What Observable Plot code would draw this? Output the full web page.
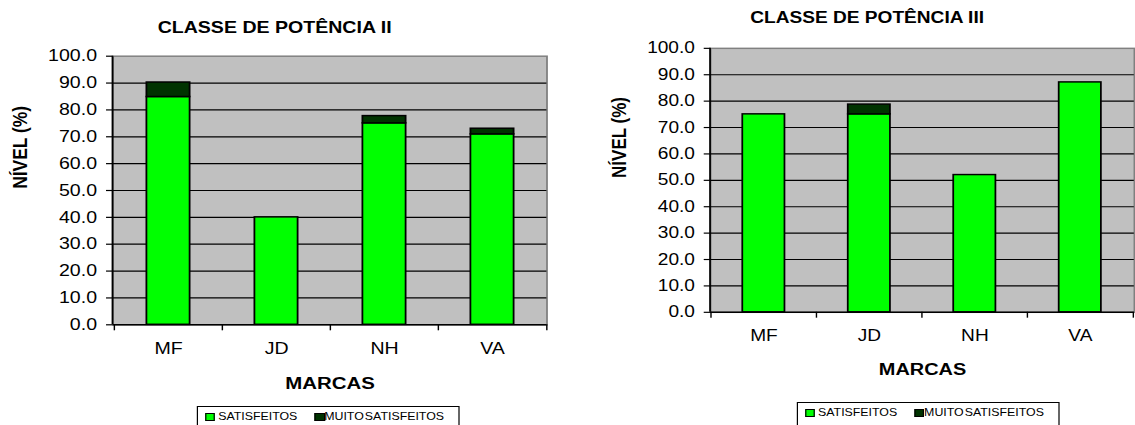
<!DOCTYPE html>
<html>
<head>
<meta charset="utf-8">
<script src="https://cdn.jsdelivr.net/npm/d3@7"></script>
<script src="https://cdn.jsdelivr.net/npm/@observablehq/plot@0.6"></script>
<style>
  html, body { margin: 0; padding: 0; width: 1135px; height: 425px; overflow: hidden; background: #fff; }
  /* the whole figure is drawn in a narrower space and stretched horizontally */
  #page { position: absolute; left: 0; top: 0; width: 945.83px; height: 425px;
          transform: scaleX(1.2); transform-origin: 0 0;
          font-family: "Liberation Sans", Arial, sans-serif; color: #000; }
  .chart { position: absolute; top: 0; }
  .legend { position: absolute; width: 219.7px; height: 28px; box-sizing: border-box;
            border: 1px solid #000; background: #fff; font-size: 10.3px; }
  .legend .sw { position: absolute; top: 5.5px; width: 8.3px; height: 8.3px; box-sizing: border-box;
                border: 1px solid #000; }
  .legend .lb { position: absolute; top: 0; line-height: 19.4px; white-space: nowrap; word-spacing: -2px; }
</style>
</head>
<body>
<div id="page">
  <div class="chart" id="c2" style="left:0px"></div>
  <div class="chart" id="c3" style="left:475px"></div>
  <div class="legend" style="left:163.7px; top:406px">
    <span class="sw" style="left:6px; background:#00FF00"></span><span class="lb" style="left:17.1px">SATISFEITOS</span>
    <span class="sw" style="left:97.6px; background:#003300"></span><span class="lb" style="left:105.5px">MUITO SATISFEITOS</span>
  </div>
  <div class="legend" style="left:663.6px; top:402px">
    <span class="sw" style="left:6px; background:#00FF00"></span><span class="lb" style="left:17.1px">SATISFEITOS</span>
    <span class="sw" style="left:97.6px; background:#003300"></span><span class="lb" style="left:105.5px">MUITO SATISFEITOS</span>
  </div>
</div>
<script>
// Brands on the x axis
const brands = ["MF", "JD", "NH", "VA"];
// Satisfaction levels (%), power class II
const satisfeitosII = [84.8, 40.0, 75.0, 70.9];
const muitoSatisfeitosII = [5.4, 0, 2.7, 2.1];
// Satisfaction levels (%), power class III
const satisfeitosIII = [75.0, 75.0, 52.0, 87.1];
const muitoSatisfeitosIII = [0, 3.7, 0, 0];
// Series names and colours
const seriesNames = ["SATISFEITOS", "MUITO SATISFEITOS"];
const seriesColors = ["#00FF00", "#003300"];
// Y axis ticks
const yTicks = [0, 10, 20, 30, 40, 50, 60, 70, 80, 90, 100];

function rowsFor(sat, muito) {
  return brands.flatMap((b, i) => [
    {brand: b, series: seriesNames[0], value: sat[i]},
    {brand: b, series: seriesNames[1], value: muito[i]}
  ]).filter(d => d.value > 0);
}

// vertical axis line along the left edge of the plot area
function leftAxisLine(...args) {
  const dims = args.find(a => a && typeof a === "object" && "marginLeft" in a && "height" in a);
  const line = document.createElementNS("http://www.w3.org/2000/svg", "line");
  line.setAttribute("x1", dims.marginLeft);
  line.setAttribute("x2", dims.marginLeft);
  line.setAttribute("y1", dims.marginTop);
  line.setAttribute("y2", dims.height - dims.marginBottom);
  line.setAttribute("stroke", "#000");
  line.setAttribute("stroke-width", 1.5);
  return line;
}

function classChart(o) {
  const height = 395;
  const step = (o.width - o.marginLeft - o.marginRight) / brands.length;
  const last = brands[brands.length - 1];
  return Plot.plot({
    width: o.width,
    height,
    marginLeft: o.marginLeft,
    marginRight: o.marginRight,
    marginTop: o.marginTop,
    marginBottom: o.marginBottom,
    style: {fontFamily: '"Liberation Sans", Arial, sans-serif', fontSize: "16.3px", color: "#000", background: "transparent", overflow: "visible"},
    x: {domain: brands, paddingInner: 0.6, paddingOuter: 0.3, label: null},
    y: {domain: [0, 100], label: null},
    color: {domain: seriesNames, range: seriesColors},
    marks: [
      Plot.frame({fill: "#C0C0C0", stroke: "#808080", strokeWidth: 1.5}),
      Plot.ruleY(yTicks.filter(v => v > 0 && v < 100), {stroke: "#000", strokeWidth: 1.2}),
      Plot.barY(o.rows, {x: "brand", y: "value", fill: "series", stroke: "#000", strokeWidth: 1.5}),
      Plot.ruleY([0], {stroke: "#000", strokeWidth: 1.5}),
      leftAxisLine,
      Plot.axisY({ticks: yTicks, tickFormat: d => d.toFixed(1), tickSize: 5.4, tickPadding: 8, fontSize: 16.3, stroke: "#000", strokeWidth: 1.2}),
      Plot.axisX({ticks: brands, tickSize: 6, tickFormat: () => "", dx: -step / 2, stroke: "#000", strokeWidth: 1.2}),
      Plot.axisX({ticks: [last], tickSize: 6, tickFormat: () => "", dx: step / 2, stroke: "#000", strokeWidth: 1.2}),
      Plot.text(brands, {x: d => d, text: d => d, frameAnchor: "bottom", dy: 23.7, lineAnchor: "middle", fontSize: 16.3, fill: "#000"}),
      Plot.text(["MARCAS"], {text: d => d, frameAnchor: "bottom", dy: 58.7, lineAnchor: "middle", fontSize: 17, fontWeight: "bold", fill: "#000"}),
      Plot.text(["NÍVEL (%)"], {text: d => d, frameAnchor: "left", dx: o.yLabelDx, dy: o.yLabelDy, rotate: -90, lineAnchor: "middle", fontSize: 17.4, fontWeight: "bold", fill: "#000"}),
      Plot.text([o.title], {text: d => d, frameAnchor: "top", dx: o.titleDx, dy: o.titleDy, lineAnchor: "middle", fontSize: 16.3, fontWeight: "bold", fill: "#000"})
    ]
  });
}

document.getElementById("c2").append(classChart({
  title: "CLASSE DE POTÊNCIA II",
  rows: rowsFor(satisfeitosII, muitoSatisfeitosII),
  width: 470, marginLeft: 93.75, marginRight: 14.67, marginTop: 55.7, marginBottom: 70.7,
  titleDx: -46.2, titleDy: -28.7, yLabelDx: -77.4, yLabelDy: -1.7
}));

document.getElementById("c3").append(classChart({
  title: "CLASSE DE POTÊNCIA III",
  rows: rowsFor(satisfeitosIII, muitoSatisfeitosIII),
  width: 482.1, marginLeft: 119.5, marginRight: 1, marginTop: 49, marginBottom: 75.7,
  titleDx: -47.3, titleDy: -30.7, yLabelDx: -77.4, yLabelDy: -2.5
}));
</script>
</body>
</html>
